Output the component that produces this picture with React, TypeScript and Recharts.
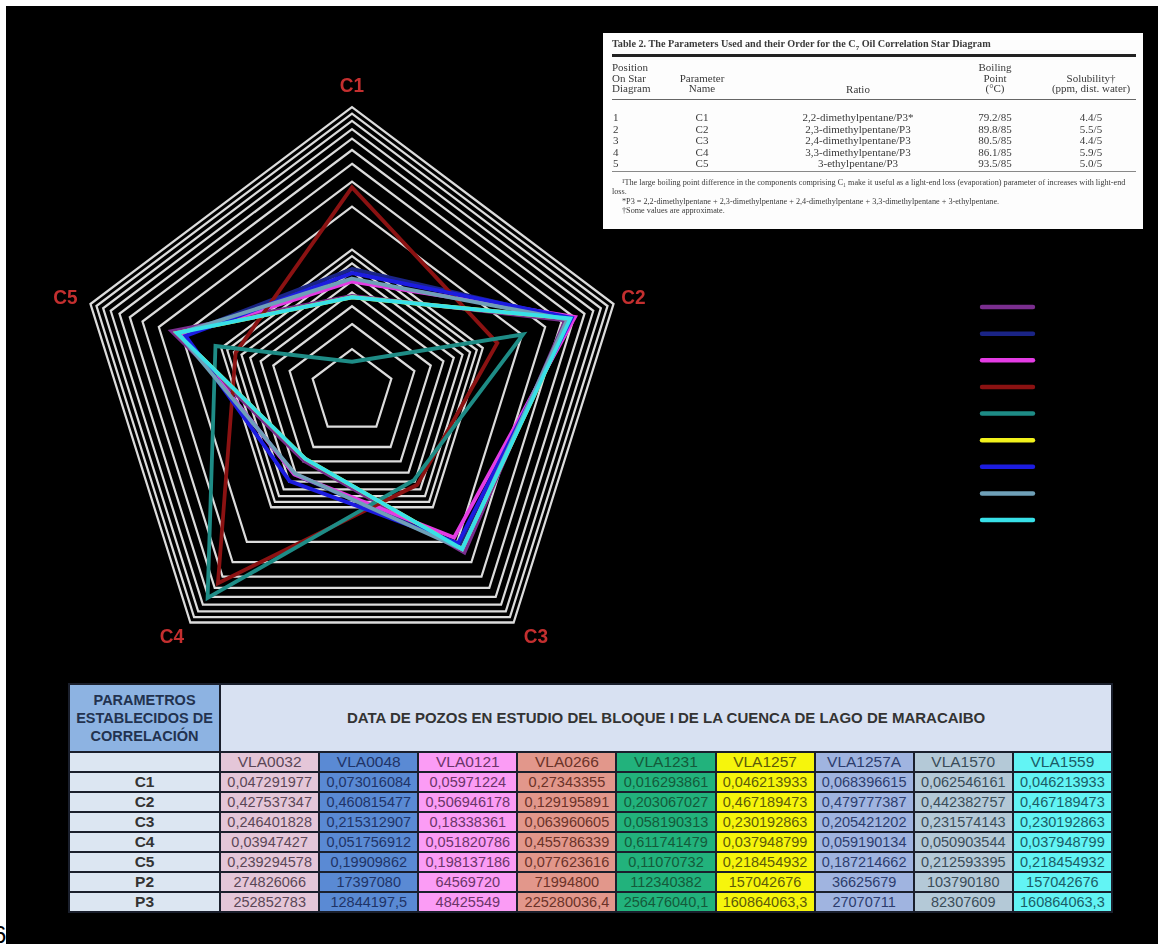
import React from 'react';
import { RadarChart, Radar, PolarGrid, PolarAngleAxis, PolarRadiusAxis, Legend } from 'recharts';

// Star-diagram parameters (radar axes) and the extra table-only parameters
const PARAMS = ['C1', 'C2', 'C3', 'C4', 'C5'];
const EXTRA_PARAMS = ['P2', 'P3'];
const WELLS = ['VLA0032', 'VLA0048', 'VLA0121', 'VLA0266', 'VLA1231', 'VLA1257', 'VLA1257A', 'VLA1570', 'VLA1559'];

// Values per well: C1, C2, C3, C4, C5, P2, P3
const VLA0032 = [0.047291977, 0.427537347, 0.246401828, 0.03947427, 0.239294578, 274826066, 252852783];
const VLA0048 = [0.073016084, 0.460815477, 0.215312907, 0.051756912, 0.19909862, 17397080, 12844197.5];
const VLA0121 = [0.05971224, 0.506946178, 0.18338361, 0.051820786, 0.198137186, 64569720, 48425549];
const VLA0266 = [0.27343355, 0.129195891, 0.063960605, 0.455786339, 0.077623616, 71994800, 225280036.4];
const VLA1231 = [0.016293861, 0.203067027, 0.058190313, 0.611741479, 0.11070732, 112340382, 256476040.1];
const VLA1257 = [0.046213933, 0.467189473, 0.230192863, 0.037948799, 0.218454932, 157042676, 160864063.3];
const VLA1257A = [0.068396615, 0.479777387, 0.205421202, 0.059190134, 0.187214662, 36625679, 27070711];
const VLA1570 = [0.062546161, 0.442382757, 0.231574143, 0.050903544, 0.212593395, 103790180, 82307609];
const VLA1559 = [0.046213933, 0.467189473, 0.230192863, 0.037948799, 0.218454932, 157042676, 160864063.3];
const WELL_VALUES = [VLA0032, VLA0048, VLA0121, VLA0266, VLA1231, VLA1257, VLA1257A, VLA1570, VLA1559];

const LINE_COLORS = ['#7a2e8e', '#1a2486', '#e43ce4', '#8b1212', '#1e8c86', '#f2f21c', '#1c1ce0', '#6fa0b8', '#38e0e8'];
const CELL_COLORS = ['#e4c6d8', '#5a8ad4', '#fb9cf5', '#e2978b', '#22b27c', '#f6f50c', '#a0b4e0', '#b4c9d7', '#62f4f4'];
const CELL_TEXT = ['#5a4656', '#1f3366', '#6a3468', '#6a3228', '#145a3a', '#5c5a08', '#2c3c6c', '#3a4c58', '#1a5c66'];

// Logarithmic rings: 0.01 … 1 with a ring at every 1–9 step of each decade
const RADIUS_TICKS = [0.01, 0.02, 0.03, 0.04, 0.05, 0.06, 0.07, 0.08, 0.09, 0.1, 0.2, 0.3, 0.4, 0.5, 0.6, 0.7, 0.8, 0.9, 1];

const CX = 352;
const CY = 392;
const OUTER_R = 275;
// the star is drawn slightly taller than wide
const STRETCH_Y = 1.036;
// small per-axis label nudges (px), in axis order C1..C5
const LABEL_NUDGE: [number, number][] = [[0, 0], [0, 0], [10, -4], [-6, -4], [-5, 0]];

const chartData = PARAMS.map((p, i) => {
  const row: Record<string, number | string> = { param: p };
  WELLS.forEach((w, j) => {
    row[w] = WELL_VALUES[j][i];
  });
  return row;
});

const fmt = (v: number) => String(v).replace('.', ',');

function AxisTick(props: any) {
  const { x, y, payload } = props;
  const dx = x - CX;
  const dy = y - CY;
  const d = Math.hypot(dx, dy) || 1;
  const off = OUTER_R + 21;
  const idx = PARAMS.indexOf(payload.value);
  const [nx, ny] = idx >= 0 ? LABEL_NUDGE[idx] : [0, 0];
  return (
    <text
      x={CX + (dx / d) * off + nx}
      y={CY + (dy / d) * off + ny}
      textAnchor="middle"
      dominantBaseline="central"
      fill="#c42f2f"
      fontFamily="Liberation Sans, Arial, sans-serif"
      fontWeight="bold"
      fontSize={19}
    >
      {payload.value}
    </text>
  );
}

function LegendLines(props: any) {
  const payload = [...(props.payload || [])].sort(
    (a: any, b: any) => WELLS.indexOf(a.dataKey) - WELLS.indexOf(b.dataKey)
  );
  return (
    <svg width={70} height={240}>
      {payload.map((entry: any, i: number) => {
        const idx = WELLS.indexOf(entry.dataKey);
        const color = idx >= 0 ? LINE_COLORS[idx] : entry.color;
        const y = 10 + i * 25.7;
        return <line key={i} x1={7} x2={58} y1={y} y2={y} stroke={color} strokeWidth={4.4} strokeLinecap="round" />;
      })}
    </svg>
  );
}

const insetText: React.CSSProperties = {
  position: 'absolute',
  fontFamily: 'Liberation Serif, DejaVu Serif, serif',
  fontSize: 11,
  color: '#3a3a3a',
  whiteSpace: 'nowrap',
  lineHeight: '10.5px',
};

function Inset() {
  const rows = [
    ['1', 'C1', '2,2-dimethylpentane/P3*', '79.2/85', '4.4/5'],
    ['2', 'C2', '2,3-dimethylpentane/P3', '89.8/85', '5.5/5'],
    ['3', 'C3', '2,4-dimethylpentane/P3', '80.5/85', '4.4/5'],
    ['4', 'C4', '3,3-dimethylpentane/P3', '86.1/85', '5.9/5'],
    ['5', 'C5', '3-ethylpentane/P3', '93.5/85', '5.0/5'],
  ];
  const center = (x: number, y: number, t: string, key: string) => (
    <div key={key} style={{ ...insetText, left: x - 70, width: 140, top: y, textAlign: 'center' }}>{t}</div>
  );
  return (
    <div style={{ position: 'absolute', left: 603, top: 33, width: 540, height: 196, background: '#fdfdfd', filter: 'blur(0.55px)' }}>
      <div style={{ ...insetText, left: 9, top: 6, fontWeight: 'bold', fontSize: 10.2 }}>
        Table 2. The Parameters Used and their Order for the C<sub style={{ fontSize: 7 }}>7</sub> Oil Correlation Star Diagram
      </div>
      <div style={{ position: 'absolute', left: 9, right: 7, top: 21, height: 3, background: '#222' }} />
      <div style={{ ...insetText, left: 9, top: 29 }}>Position<br />On Star<br />Diagram</div>
      {center(99, 39.5, 'Parameter', 'h1')}
      {center(99, 50, 'Name', 'h2')}
      {center(255, 51, 'Ratio', 'h3')}
      {center(392, 29, 'Boiling', 'h4')}
      {center(392, 39.5, 'Point', 'h5')}
      {center(392, 50, '(°C)', 'h6')}
      {center(488, 39.5, 'Solubility†', 'h7')}
      {center(488, 50, '(ppm, dist. water)', 'h8')}
      <div style={{ position: 'absolute', left: 9, right: 7, top: 66, height: 1, background: '#666' }} />
      {rows.map((r, i) => {
        const y = 79 + i * 11.6;
        return (
          <React.Fragment key={i}>
            <div style={{ ...insetText, left: 10, top: y }}>{r[0]}</div>
            {center(99, y, r[1], 'a' + i)}
            {center(255, y, r[2], 'b' + i)}
            {center(392, y, r[3], 'c' + i)}
            {center(488, y, r[4], 'd' + i)}
          </React.Fragment>
        );
      })}
      <div style={{ position: 'absolute', left: 9, right: 7, top: 138, height: 1, background: '#888' }} />
      <div style={{ ...insetText, left: 9, top: 145, fontSize: 8.2, width: 524, whiteSpace: 'normal', lineHeight: '9px', textIndent: 10 }}>
        ¹The large boiling point difference in the components comprising C₁ make it useful as a light-end loss (evaporation) parameter of increases with light-end loss.
      </div>
      <div style={{ ...insetText, left: 19, top: 164, fontSize: 8.2, lineHeight: '9px' }}>
        *P3 = 2,2-dimethylpentane + 2,3-dimethylpentane + 2,4-dimethylpentane + 3,3-dimethylpentane + 3-ethylpentane.
      </div>
      <div style={{ ...insetText, left: 19, top: 173, fontSize: 8.2, lineHeight: '9px' }}>†Some values are approximate.</div>
    </div>
  );
}

const cellBase: React.CSSProperties = {
  padding: 0,
  textAlign: 'center',
  fontFamily: 'Liberation Sans, Arial, sans-serif',
  fontSize: 15.5,
  height: 18,
  lineHeight: '18px',
  overflow: 'hidden',
  whiteSpace: 'nowrap',
};

function DataTable() {
  const allParams = [...PARAMS, ...EXTRA_PARAMS];
  return (
    <table
      style={{
        position: 'absolute',
        left: 68,
        top: 683,
        borderCollapse: 'separate',
        borderSpacing: 2,
        background: '#1a1f2c',
        tableLayout: 'fixed',
        width: 1045,
      }}
    >
      <colgroup>
        <col style={{ width: 149 }} />
        {WELLS.map((w) => (
          <col key={w} style={{ width: 97 }} />
        ))}
      </colgroup>
      <tbody>
        <tr>
          <td
            style={{
              ...cellBase,
              height: 66,
              background: '#8db3e2',
              color: '#22324f',
              fontWeight: 'bold',
              fontSize: 14.5,
              lineHeight: '18px',
              whiteSpace: 'normal',
            }}
          >
            PARAMETROS<br />ESTABLECIDOS DE<br />CORRELACIÓN
          </td>
          <td
            colSpan={9}
            style={{ ...cellBase, height: 66, background: '#d8e1f2', color: '#333', fontWeight: 'bold', fontSize: 15 }}
          >
            DATA DE POZOS EN ESTUDIO DEL BLOQUE I DE LA CUENCA DE LAGO DE MARACAIBO
          </td>
        </tr>
        <tr>
          <td style={{ ...cellBase, background: '#dce6f2' }} />
          {WELLS.map((w, j) => (
            <td key={w} style={{ ...cellBase, background: CELL_COLORS[j], color: CELL_TEXT[j] }}>
              {w}
            </td>
          ))}
        </tr>
        {allParams.map((p, i) => (
          <tr key={p}>
            <td style={{ ...cellBase, background: '#dce6f2', color: '#333', fontWeight: 'bold' }}>{p}</td>
            {WELLS.map((w, j) => (
              <td key={w} style={{ ...cellBase, background: CELL_COLORS[j], color: CELL_TEXT[j], fontSize: 14.5 }}>
                {fmt(WELL_VALUES[j][i])}
              </td>
            ))}
          </tr>
        ))}
      </tbody>
    </table>
  );
}

export default function App() {
  return (
    <div style={{ position: 'absolute', left: 0, top: 0, width: 1164, height: 944, background: '#fff', overflow: 'hidden' }}>
      <div style={{ position: 'absolute', left: 6, top: 6, width: 1152, height: 938, background: '#000' }} />
      <div style={{ position: 'absolute', left: -7, top: 921, fontFamily: 'Liberation Sans, Arial, sans-serif', fontSize: 24, color: '#000' }}>6</div>
      <div
        style={{
          position: 'absolute',
          left: 0,
          top: 0,
          transform: `scaleY(${STRETCH_Y})`,
          transformOrigin: `${CX}px ${CY}px`,
        }}
      >
        <RadarChart width={1164} height={680} data={chartData} cx={CX} cy={CY} outerRadius={OUTER_R} margin={{ top: 0, right: 0, bottom: 0, left: 0 }}>
          <PolarGrid gridType="polygon" radialLines={false} stroke="#dcdcdc" strokeWidth={2.2} />
          <PolarAngleAxis dataKey="param" tick={<AxisTick />} tickLine={false} axisLine={false} />
          <PolarRadiusAxis
            scale="log"
            domain={[0.01, 1]}
            allowDataOverflow
            ticks={RADIUS_TICKS}
            tick={false}
            axisLine={false}
            tickCount={19}
          />
          {WELLS.map((w, j) => (
            <Radar
              key={w}
              name={w}
              dataKey={w}
              stroke={LINE_COLORS[j]}
              strokeWidth={3.8}
              fill="none"
              fillOpacity={0}
              dot={false}
              isAnimationActive={false}
            />
          ))}
          <Legend
            layout="vertical"
            content={(props: any) => <LegendLines payload={props.payload} />}
            wrapperStyle={{ position: 'absolute', left: 975, top: 300, width: 70, height: 240 }}
          />
        </RadarChart>
      </div>
      <Inset />
      <DataTable />
    </div>
  );
}
